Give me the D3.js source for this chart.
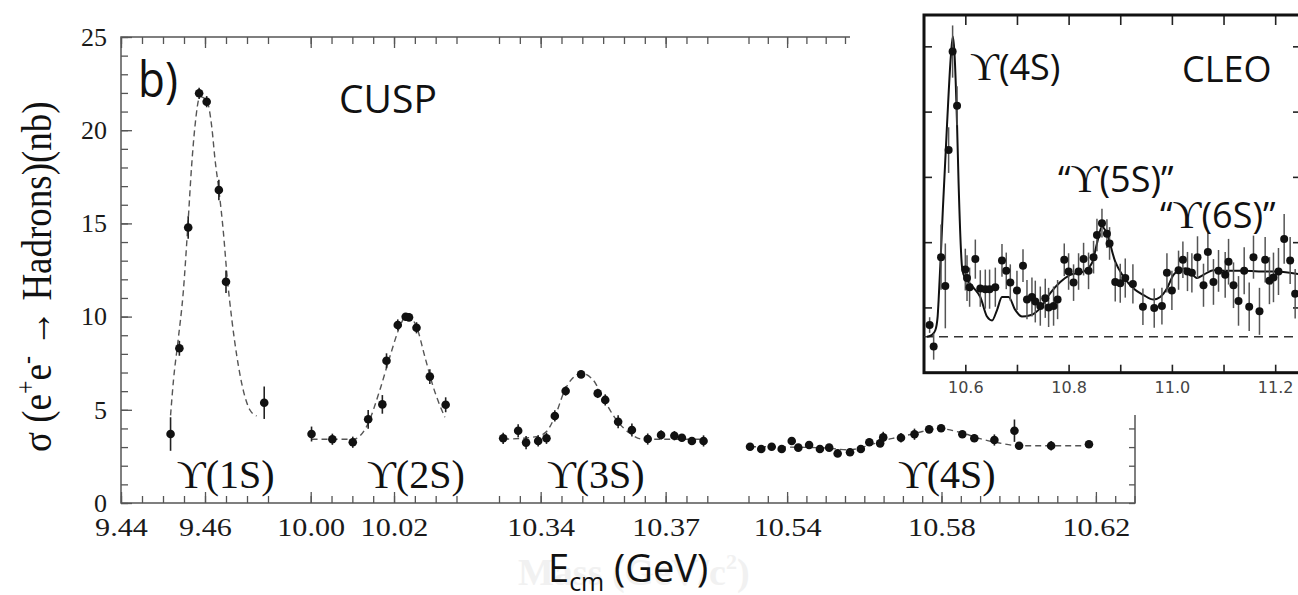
<!DOCTYPE html>
<html>
<head>
<meta charset="utf-8">
<script src="https://cdn.jsdelivr.net/npm/d3@7"></script>
<style>
  html, body { margin: 0; padding: 0; background: #fff; }
  svg { display: block; }
</style>
</head>
<body>
<div id="chart"></div>
<script>
// ---- CUSP scans, sigma(e+e- -> hadrons) in nb, energies in GeV ----
const e1S = [9.4518, 9.4539, 9.4560, 9.4586, 9.4604, 9.4633, 9.4650, 9.4741]
const sig1S = [3.70, 8.30, 14.78, 21.98, 21.53, 16.79, 11.87, 5.38]
const err1S = [0.9, 0.4, 0.6, 0.3, 0.3, 0.55, 0.6, 0.87]
const fit1SE = [9.4518, 9.4525, 9.4536, 9.4548, 9.4560, 9.4568, 9.4576, 9.4588, 9.4604, 9.4616, 9.4624, 9.4633, 9.4644, 9.4652, 9.4664, 9.4676, 9.4691, 9.4707, 9.4723]
const fit1SS = [4.7, 6.6, 8.74, 11.25, 15.18, 18.04, 20.19, 21.8, 21.6, 20.2, 18.4, 16.8, 14.47, 12.32, 9.82, 7.85, 6.06, 4.99, 4.67]

const e2S = [10.0002, 10.0052, 10.0101, 10.0138, 10.0172, 10.0182, 10.0209, 10.0228, 10.0236, 10.0254, 10.0286, 10.0324]
const sig2S = [3.70, 3.42, 3.26, 4.49, 5.29, 7.63, 9.55, 9.99, 9.96, 9.40, 6.78, 5.27]
const err2S = [0.4, 0.3, 0.3, 0.5, 0.5, 0.4, 0.3, 0.2, 0.2, 0.3, 0.4, 0.4]
const fit2SE = [10.0002, 10.0052, 10.0102, 10.0134, 10.0166, 10.0190, 10.0214, 10.0230, 10.0254, 10.0274, 10.0294, 10.0322]
const fit2SS = [3.42, 3.42, 3.42, 4.1, 6.06, 7.85, 9.46, 10.08, 9.46, 7.85, 6.24, 4.6]

const e3S = [10.3310, 10.3346, 10.3365, 10.3394, 10.3414, 10.3434, 10.3460, 10.3497, 10.3537, 10.3555, 10.3586, 10.3619, 10.3657, 10.3689, 10.3721, 10.3739, 10.3763, 10.3791]
const sig3S = [3.47, 3.88, 3.24, 3.33, 3.47, 4.67, 6.01, 6.90, 5.88, 5.53, 4.36, 3.92, 3.43, 3.65, 3.61, 3.50, 3.33, 3.33]
const err3S = [0.3, 0.35, 0.35, 0.3, 0.3, 0.3, 0.25, 0.2, 0.25, 0.3, 0.35, 0.35, 0.3, 0.25, 0.25, 0.2, 0.2, 0.3]
const fit3SE = [10.3310, 10.3390, 10.3414, 10.3434, 10.3458, 10.3486, 10.3497, 10.3526, 10.3550, 10.3582, 10.3614, 10.3646, 10.3790]
const fit3SS = [3.42, 3.56, 3.83, 4.63, 6.06, 6.87, 6.96, 6.6, 5.62, 4.45, 3.74, 3.42, 3.42]

const e4S = [10.5304, 10.5333, 10.5360, 10.5386, 10.5412, 10.5429, 10.5457, 10.5485, 10.5509, 10.5531, 10.5563, 10.5591, 10.5613, 10.5641, 10.5649, 10.5695, 10.5730, 10.5768, 10.5799, 10.5854, 10.5885, 10.5937, 10.5989, 10.6001, 10.6084, 10.6182]
const sig4S = [3.02, 2.90, 3.02, 2.90, 3.33, 2.97, 3.11, 2.90, 2.97, 2.66, 2.72, 2.90, 3.26, 3.20, 3.52, 3.50, 3.69, 3.95, 4.01, 3.69, 3.47, 3.38, 3.88, 3.07, 3.07, 3.15]
const err4S = [0.15, 0.15, 0.15, 0.15, 0.15, 0.15, 0.15, 0.15, 0.15, 0.15, 0.2, 0.2, 0.2, 0.2, 0.3, 0.25, 0.3, 0.2, 0.15, 0.15, 0.2, 0.3, 0.6, 0.15, 0.25, 0.15]
const fit4SE = [10.5304, 10.5400, 10.5500, 10.5560, 10.5620, 10.5670, 10.5730, 10.5790, 10.5850, 10.5900, 10.5950, 10.6000, 10.6180]
const fit4SS = [3.02, 3.0, 2.95, 2.85, 3.15, 3.45, 3.72, 4.0, 3.78, 3.45, 3.22, 3.07, 3.07]

const yMajor = [0, 5, 10, 15, 20, 25]

// ---- CLEO inset (unlabelled vertical scale, one unit per tick) ----
const cleoE = [10.5309, 10.5387, 10.5530, 10.5613, 10.5677, 10.5754, 10.5840, 10.6000, 10.6033, 10.6083, 10.6194, 10.6290, 10.6387, 10.6470, 10.6581, 10.6710, 10.6793, 10.6871, 10.7000, 10.7117, 10.7194, 10.7290, 10.7355, 10.7452, 10.7548, 10.7613, 10.7709, 10.7787, 10.7916, 10.8000, 10.8096, 10.8193, 10.8290, 10.8386, 10.8483, 10.8549, 10.8646, 10.8742, 10.8793, 10.8903, 10.9000, 10.9097, 10.9245, 10.9439, 10.9658, 10.9807, 10.9904, 11.0000, 11.0129, 11.0213, 11.0302, 11.0387, 11.0496, 11.0612, 11.0697, 11.0805, 11.0903, 11.1032, 11.1097, 11.1193, 11.1290, 11.1400, 11.1497, 11.1580, 11.1696, 11.1806, 11.1889, 11.1967, 11.2064, 11.2174, 11.2290, 11.2387]
const cleoR = [0.73, 0.40, 1.77, 1.33, 3.41, 4.92, 4.09, 1.58, 1.45, 1.31, 1.74, 1.29, 1.28, 1.28, 1.31, 1.72, 1.56, 1.38, 1.26, 1.64, 1.12, 1.16, 1.09, 1.02, 1.14, 1.00, 1.02, 1.12, 1.73, 1.55, 1.38, 1.55, 1.74, 1.56, 1.77, 2.11, 2.29, 2.13, 1.98, 1.39, 1.37, 1.45, 1.36, 1.01, 0.99, 1.02, 1.53, 1.26, 1.57, 1.73, 1.55, 1.53, 1.77, 1.34, 1.85, 1.39, 1.56, 1.50, 1.70, 1.34, 1.10, 1.56, 1.01, 1.77, 0.94, 1.73, 1.41, 1.46, 1.55, 2.05, 1.72, 1.21]
const cleoErr = [0.12, 0.20, 0.50, 0.65, 0.35, 0.40, 0.30, 0.32, 0.35, 0.30, 0.30, 0.28, 0.30, 0.30, 0.30, 0.25, 0.28, 0.28, 0.30, 0.25, 0.30, 0.30, 0.32, 0.30, 0.30, 0.30, 0.30, 0.30, 0.25, 0.28, 0.28, 0.28, 0.25, 0.28, 0.25, 0.25, 0.22, 0.22, 0.25, 0.30, 0.30, 0.30, 0.30, 0.28, 0.30, 0.28, 0.30, 0.30, 0.30, 0.28, 0.30, 0.30, 0.32, 0.33, 0.30, 0.35, 0.32, 0.35, 0.35, 0.35, 0.38, 0.36, 0.37, 0.33, 0.36, 0.35, 0.36, 0.38, 0.36, 0.38, 0.36, 0.38]
const cleoFitE = [10.5259, 10.5355, 10.5419, 10.5464, 10.5483, 10.5530, 10.5565, 10.5646, 10.5720, 10.5758, 10.5790, 10.5840, 10.5870, 10.5936, 10.5967, 10.6033, 10.6161, 10.6290, 10.6420, 10.6517, 10.6614, 10.6710, 10.6838, 10.6968, 10.7097, 10.7258, 10.7452, 10.7645, 10.7839, 10.8032, 10.8290, 10.8452, 10.8549, 10.8646, 10.8742, 10.8903, 10.9064, 10.9257, 10.9451, 10.9644, 10.9774, 10.9904, 11.0031, 11.0161, 11.0258, 11.0354, 11.0484, 11.0612, 11.0805, 11.1065, 11.1386, 11.1839, 11.2032, 11.2450]
const cleoFitR = [0.55, 0.58, 0.65, 0.86, 1.11, 1.88, 2.50, 3.80, 4.85, 5.15, 4.90, 3.80, 2.90, 1.62, 1.50, 1.42, 1.30, 1.16, 0.86, 0.80, 0.96, 1.16, 1.16, 0.96, 0.86, 0.88, 0.99, 1.22, 1.39, 1.50, 1.55, 1.68, 1.98, 2.24, 2.13, 1.70, 1.47, 1.29, 1.19, 1.12, 1.16, 1.29, 1.50, 1.57, 1.60, 1.55, 1.45, 1.50, 1.57, 1.56, 1.56, 1.55, 1.55, 1.51]
const cleoContinuum = 0.55
const cleoTickLabels = [10.6, 10.8, 11.0, 11.2]

// ---- layout ----
const W = 1298, H = 595
const FRAME = { left: 121, right: 1135, top: 37, bottom: 503 }
const SERIF = "'Liberation Serif', 'DejaVu Serif', serif"
const SANS = "'Open Sans', 'Noto Sans', sans-serif"
const AXIS = '#555'

const svg = d3.select('#chart').append('svg')
  .attr('width', W).attr('height', H)
  .style('font-family', SERIF)

const y = d3.scaleLinear().domain([0, 25]).range([FRAME.bottom, FRAME.top])

const panels = [
  { E: e1S, S: sig1S, err: err1S, fitE: fit1SE, fitS: fit1SS, domain: [9.44, 9.475], range: [121, 268], major: [9.44, 9.46], name: '1S', nameAt: 9.4533 },
  { E: e2S, S: sig2S, err: err2S, fitE: fit2SE, fitS: fit2SS, domain: [10.00, 10.035], range: [310.7, 456.5], major: [10.00, 10.02], name: '2S', nameAt: 10.0135 },
  { E: e3S, S: sig3S, err: err3S, fitE: fit3SE, fitS: fit3SS, domain: [10.33, 10.38], range: [499, 707.3], major: [10.34, 10.37], name: '3S', nameAt: 10.3415 },
  { E: e4S, S: sig4S, err: err4S, fitE: fit4SE, fitS: fit4SS, domain: [10.53, 10.63], range: [748.5, 1134.5], major: [10.54, 10.58, 10.62], name: '4S', nameAt: 10.5687 }
]
panels.forEach(p => { p.x = d3.scaleLinear().domain(p.domain).range(p.range) })

const styleTicks = sel => {
  sel.select('.domain').remove()
  sel.selectAll('.tick line').attr('stroke', AXIS).attr('stroke-width', 1.3)
  sel.selectAll('.tick text')
    .attr('fill', '#1a1a1a')
    .style('font-family', SERIF)
    .style('font-size', '26px')
}

// faint ghost of an older axis title sitting behind the real one
const ghost = svg.append('text')
  .attr('x', 518).attr('y', 585)
  .attr('fill', '#f1f1f1')
  .style('font-family', SERIF).style('font-weight', 'bold').style('font-size', '38px')
ghost.append('tspan').text('Mass (GeV/c')
ghost.append('tspan').attr('dy', -16).style('font-size', '22px').text('2')
ghost.append('tspan').attr('dy', 16).text(')')

// ---- axes ----
panels.forEach(p => {
  const minor = d3.range(Math.round(p.domain[0] * 200), Math.round(p.domain[1] * 200) + 1).map(k => k / 200)

  svg.append('g').attr('transform', `translate(0,${FRAME.bottom})`)
    .call(d3.axisBottom(p.x).tickValues(minor).tickSize(-7).tickFormat(''))
    .call(styleTicks)
  svg.append('g').attr('transform', `translate(0,${FRAME.bottom})`)
    .call(d3.axisBottom(p.x).tickValues(p.major).tickSize(-11).tickPadding(14.5).tickFormat(d3.format('.2f')))
    .call(styleTicks)
    .call(sel => sel.selectAll('.tick text').attr('transform', 'scale(1.16,1)'))

  svg.append('g').attr('transform', `translate(0,${FRAME.top})`)
    .call(d3.axisTop(p.x).tickValues(minor).tickSize(-7).tickFormat(''))
    .call(styleTicks)
  svg.append('g').attr('transform', `translate(0,${FRAME.top})`)
    .call(d3.axisTop(p.x).tickValues(p.major).tickSize(-11).tickFormat(''))
    .call(styleTicks)
})

const yMinor = d3.range(0, 26)
svg.append('g').attr('transform', `translate(${FRAME.left},0)`)
  .call(d3.axisLeft(y).tickValues(yMinor).tickSize(-7).tickFormat(''))
  .call(styleTicks)
svg.append('g').attr('transform', `translate(${FRAME.left},0)`)
  .call(d3.axisLeft(y).tickValues(yMajor).tickSize(-11).tickPadding(14).tickFormat(d3.format('d')))
  .call(styleTicks)
svg.append('g').attr('transform', `translate(${FRAME.right},0)`)
  .call(d3.axisRight(y).tickValues(yMinor).tickSize(-6).tickFormat(''))
  .call(styleTicks)

svg.append('path')
  .attr('d', `M${FRAME.left},${FRAME.top}V${FRAME.bottom}H${FRAME.right}V${FRAME.top}Z`)
  .attr('fill', 'none').attr('stroke', AXIS).attr('stroke-width', 1.5)

// ---- data ----
panels.forEach(p => {
  const line = d3.line()
    .x(d => p.x(d[0])).y(d => y(d[1]))
    .curve(d3.curveMonotoneX)
  svg.append('path')
    .datum(d3.zip(p.fitE, p.fitS))
    .attr('d', line)
    .attr('fill', 'none')
    .attr('stroke', '#555')
    .attr('stroke-width', 1.4)
    .attr('stroke-dasharray', '6,4')

  const pts = d3.zip(p.E, p.S, p.err)
  svg.append('g').selectAll('line')
    .data(pts).enter().append('line')
    .attr('x1', d => p.x(d[0])).attr('x2', d => p.x(d[0]))
    .attr('y1', d => y(d[1] - d[2])).attr('y2', d => y(d[1] + d[2]))
    .attr('stroke', '#222').attr('stroke-width', 1.6)
  svg.append('g').selectAll('circle')
    .data(pts).enter().append('circle')
    .attr('cx', d => p.x(d[0])).attr('cy', d => y(d[1]))
    .attr('r', 4.3)
    .attr('fill', '#111')

  const lab = svg.append('text')
    .attr('x', p.x(p.nameAt)).attr('y', 488)
    .attr('fill', '#111')
    .style('font-family', SERIF).style('font-size', '40px')
  lab.append('tspan').text('\u03D2')
  lab.append('tspan').text(`(${p.name})`)
})

// ---- texts ----
svg.append('text')
  .attr('transform', 'translate(138,97) scale(0.88,1)')
  .style('font-family', SANS).style('font-size', '50px')
  .attr('fill', '#111')
  .text('b)')

svg.append('text')
  .attr('x', 339).attr('y', 113)
  .style('font-family', SANS).style('font-size', '39px')
  .attr('fill', '#111')
  .text('CUSP')

const ylab = svg.append('text')
  .attr('transform', 'translate(51,452) rotate(-90) scale(1,1.15)')
  .style('font-family', SERIF).style('font-size', '37px')
  .attr('fill', '#111')
ylab.append('tspan').text('\u03C3 (e')
ylab.append('tspan').attr('dy', -14).style('font-size', '24px').text('+')
ylab.append('tspan').attr('dy', 14).text('e')
ylab.append('tspan').attr('dy', -14).style('font-size', '24px').text('-')
ylab.append('tspan').attr('dy', 14).text(' \u2192 Hadrons)(nb)')

const xlab = svg.append('text')
  .attr('x', 548).attr('y', 582)
  .style('font-family', SANS).style('font-size', '38px')
  .attr('fill', '#111')
xlab.append('tspan').text('E')
xlab.append('tspan').attr('dy', 9).style('font-size', '25px').text('cm')
xlab.append('tspan').attr('dy', -9).text(' (GeV)')

// ---- CLEO inset ----
const ix = d3.scaleLinear().domain([10.52, 11.25]).range([924, 1301])
const iy = d3.scaleLinear().domain([0, 5.48]).range([372.7, 15])
const inset = svg.append('g')

inset.append('rect')
  .attr('x', 850).attr('y', 0).attr('width', W - 850).attr('height', 415)
  .attr('fill', '#fff')

const iTicks = d3.range(6, 13).map(k => 10 + k / 10)
const iStyle = sel => {
  sel.select('.domain').remove()
  sel.selectAll('.tick line').attr('stroke', '#222').attr('stroke-width', 1.6)
  sel.selectAll('.tick text')
    .attr('fill', '#444')
    .style('font-family', "'DejaVu Sans', sans-serif")
    .style('font-size', '16px')
}
inset.append('g').attr('transform', `translate(0,${iy(0)})`)
  .call(d3.axisBottom(ix).tickValues(iTicks).tickSize(-8).tickPadding(9)
    .tickFormat(d => cleoTickLabels.some(v => Math.abs(v - d) < 1e-6) ? d3.format('.1f')(d) : ''))
  .call(iStyle)
inset.append('g').attr('transform', `translate(0,${iy.range()[1]})`)
  .call(d3.axisTop(ix).tickValues(iTicks).tickSize(-10).tickFormat(''))
  .call(iStyle)
inset.append('g').attr('transform', `translate(${ix.range()[0]},0)`)
  .call(d3.axisLeft(iy).tickValues([1, 2, 3, 4, 5]).tickSize(-8).tickFormat(''))
  .call(iStyle)
inset.append('g').attr('transform', `translate(${ix.range()[1]},0)`)
  .call(d3.axisRight(iy).tickValues([1, 2, 3, 4, 5]).tickSize(-8).tickFormat(''))
  .call(iStyle)

inset.append('rect')
  .attr('x', ix.range()[0]).attr('y', iy.range()[1])
  .attr('width', ix.range()[1] - ix.range()[0]).attr('height', iy(0) - iy.range()[1])
  .attr('fill', 'none').attr('stroke', '#111').attr('stroke-width', 3)

inset.append('line')
  .attr('x1', ix.range()[0]).attr('x2', ix.range()[1])
  .attr('y1', iy(cleoContinuum)).attr('y2', iy(cleoContinuum))
  .attr('stroke', '#333').attr('stroke-width', 1.6).attr('stroke-dasharray', '9,6')

inset.append('path')
  .datum(d3.zip(cleoFitE, cleoFitR))
  .attr('d', d3.line().x(d => ix(d[0])).y(d => iy(d[1])).curve(d3.curveMonotoneX))
  .attr('fill', 'none').attr('stroke', '#111').attr('stroke-width', 2)

const cleoPts = d3.zip(cleoE, cleoR, cleoErr)
inset.append('g').selectAll('line')
  .data(cleoPts).enter().append('line')
  .attr('x1', d => ix(d[0])).attr('x2', d => ix(d[0]))
  .attr('y1', d => iy(d[1] - d[2])).attr('y2', d => iy(d[1] + d[2]))
  .attr('stroke', '#555').attr('stroke-width', 1.5)
inset.append('g').selectAll('circle')
  .data(cleoPts).enter().append('circle')
  .attr('cx', d => ix(d[0])).attr('cy', d => iy(d[1]))
  .attr('r', 4)
  .attr('fill', '#111')

const insetLabel = (x, yy, open, name, close) => {
  const t = inset.append('text').attr('x', x).attr('y', yy)
    .style('font-family', SANS).style('font-size', '36px').attr('fill', '#111')
  if (open) t.append('tspan').text(open)
  t.append('tspan').style('font-family', SERIF).style('font-size', '40px').text('\u03D2')
  t.append('tspan').text(`(${name})`)
  if (close) t.append('tspan').text(close)
}
insetLabel(970, 80, '', '4S', '')
insetLabel(1058, 192, '\u201C', '5S', '\u201D')
insetLabel(1160, 228, '\u201C', '6S', '\u201D')

inset.append('text')
  .attr('x', 1182).attr('y', 82)
  .style('font-family', SANS).style('font-size', '36px').attr('fill', '#111')
  .text('CLEO')
</script>
</body>
</html>
